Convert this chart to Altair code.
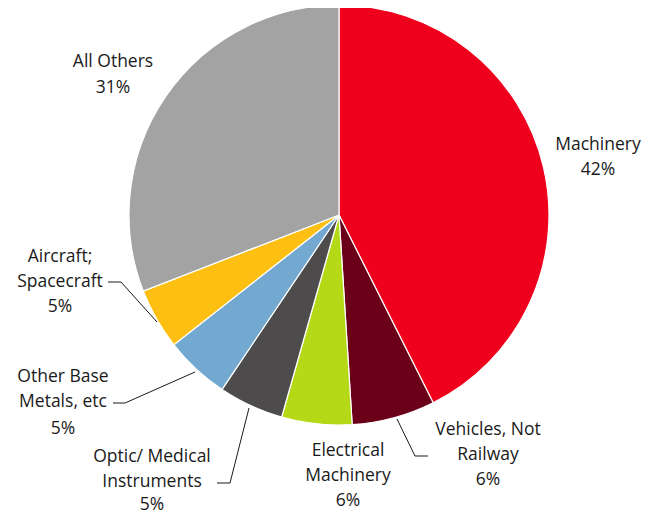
import altair as alt
import pandas as pd

categories = ["Machinery", "Vehicles, Not Railway", "Electrical Machinery",
              "Optic/ Medical Instruments", "Other Base Metals, etc",
              "Aircraft; Spacecraft", "All Others"]
shares = [42.6, 6.4, 5.4, 5.0, 5.0, 4.7, 30.9]
colors = ["#EF001C", "#6B0019", "#B5D916", "#4D4B4C", "#73A8D0", "#FDBF12", "#A3A3A3"]

# label lines (text, x, y) in pixels relative to chart origin
label_text = ["Machinery", "42%",
              "Vehicles, Not", "Railway", "6%",
              "Electrical", "Machinery", "6%",
              "Optic/ Medical", "Instruments", "5%",
              "Other Base", "Metals, etc", "5%",
              "Aircraft;", "Spacecraft", "5%",
              "All Others", "31%"]
label_x = [590, 590,
           480, 480, 480,
           340, 340, 340,
           144, 144, 144,
           55, 55, 55,
           52, 52, 52,
           105, 105]
label_y = [137, 162,
           422, 447, 472,
           443, 468, 493,
           449, 474, 497,
           369, 394, 421,
           249, 274, 299,
           54, 80]

# leader lines (id, x, y)
leader_id = ["veh", "veh", "veh", "opt", "opt", "opt",
             "oth", "oth", "oth", "air", "air", "air"]
leader_x = [420, 407, 389, 209, 222, 241,
            105, 117, 187, 100, 113, 149]
leader_y = [448, 448, 411, 475, 475, 400,
            395, 395, 364, 274, 274, 314]

pie_df = pd.DataFrame({"category": categories, "share": shares,
                       "order": list(range(len(categories)))})
lab_df = pd.DataFrame({"text": label_text, "x": label_x, "y": label_y})
lead_df = pd.DataFrame({"id": leader_id, "x": leader_x, "y": leader_y,
                        "seq": list(range(len(leader_id)))})

pie = alt.Chart(pie_df).mark_arc(outerRadius=210, stroke="white", strokeWidth=1.2).encode(
    theta=alt.Theta("share:Q", stack=True),
    color=alt.Color("category:N", scale=alt.Scale(domain=categories, range=colors), legend=None),
    order=alt.Order("order:Q", sort="ascending"),
    x=alt.value(331),
    y=alt.value(207),
)

labels = alt.Chart(lab_df).mark_text(
    font="Open Sans", fontSize=17.5, color="#1a1a1a", align="center", baseline="middle"
).encode(
    x=alt.X("x:Q", scale=None),
    y=alt.Y("y:Q", scale=None),
    text="text:N",
)

leaders = alt.Chart(lead_df).mark_line(color="#1a1a1a", strokeWidth=1).encode(
    x=alt.X("x:Q", scale=None),
    y=alt.Y("y:Q", scale=None),
    detail="id:N",
    order="seq:Q",
)

chart = alt.layer(pie, leaders, labels).properties(
    width=641, height=506, autosize=alt.AutoSizeParams(type="none"), padding=0
).configure_view(stroke=None)

chart.save("out.html", embed_options={"renderer": "svg", "actions": False})
